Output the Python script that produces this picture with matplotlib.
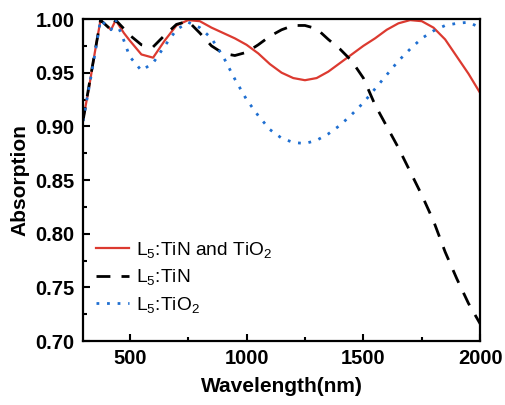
import matplotlib
matplotlib.use('Agg')
import matplotlib.pyplot as plt
from matplotlib.ticker import MultipleLocator

# wavelength grid (nm) shared by the three absorption spectra
wavelength = [300, 325, 350, 375, 400, 420, 440, 475, 500, 550, 600, 650, 700,
              750, 800, 850, 900, 950, 1000, 1050, 1100, 1150, 1200, 1250, 1300,
              1350, 1400, 1450, 1500, 1550, 1600, 1650, 1700, 1750, 1800, 1850,
              1900, 1950, 2000]

tin_tio2 = [0.906, 0.935, 0.968, 0.999, 0.994, 0.990, 0.999, 0.987, 0.980,
            0.967, 0.964, 0.980, 0.994, 0.999, 0.998, 0.992, 0.987, 0.982,
            0.976, 0.968, 0.958, 0.950, 0.945, 0.943, 0.945, 0.951, 0.959,
            0.967, 0.975, 0.982, 0.990, 0.996, 0.999, 0.998, 0.992, 0.981,
            0.965, 0.949, 0.931]

tin = [0.905, 0.937, 0.968, 0.999, 0.994, 0.990, 0.999, 0.991, 0.985,
       0.976, 0.974, 0.985, 0.995, 0.998, 0.987, 0.975, 0.968, 0.966,
       0.969, 0.976, 0.984, 0.990, 0.994, 0.994, 0.991, 0.981, 0.972,
       0.961, 0.945, 0.920, 0.900, 0.880, 0.858, 0.836, 0.812, 0.783,
       0.758, 0.735, 0.716]

tio2 = [0.905, 0.935, 0.966, 0.999, 0.994, 0.990, 0.999, 0.980, 0.965,
        0.952, 0.959, 0.975, 0.990, 0.997, 0.992, 0.982, 0.965, 0.944,
        0.925, 0.910, 0.897, 0.889, 0.885, 0.884, 0.887, 0.893, 0.901,
        0.911, 0.922, 0.935, 0.948, 0.961, 0.972, 0.982, 0.989, 0.994,
        0.996, 0.997, 0.992]

labels = [r'L$_5$:TiN and TiO$_2$', r'L$_5$:TiN', r'L$_5$:TiO$_2$']
yticks = [0.70, 0.75, 0.80, 0.85, 0.90, 0.95, 1.00]

plt.rcParams['font.family'] = ['Liberation Sans', 'DejaVu Sans']
plt.rcParams['mathtext.fontset'] = 'custom'
plt.rcParams['mathtext.rm'] = 'Liberation Sans'
plt.rcParams['mathtext.default'] = 'regular'

fig = plt.figure(figsize=(5.06, 4.05), dpi=100)
ax = fig.add_axes([0.164, 0.158, 0.785, 0.795])

ax.plot(wavelength, tin_tio2, color='#dc3a30', lw=1.6, label=labels[0])
ax.plot(wavelength, tin, color='black', lw=2.0, linestyle=(0, (5, 4)), label=labels[1])
ax.plot(wavelength, tio2, color='#1f6fd1', lw=2.0, linestyle=(0, (1, 2.8)), label=labels[2])

ax.set_xlim(300, 2000)
ax.set_ylim(0.70, 1.00)
ax.xaxis.set_major_locator(MultipleLocator(500))
ax.xaxis.set_minor_locator(MultipleLocator(250))
ax.set_yticks(yticks)
ax.set_yticklabels(['%.2f' % v for v in yticks])
ax.yaxis.set_minor_locator(MultipleLocator(0.025))

ax.tick_params(which='both', direction='in', width=1.5, top=False, right=False,
               labelsize=14.5, pad=6)
ax.tick_params(which='major', length=5)
ax.tick_params(which='minor', length=3)
for lbl in ax.get_xticklabels() + ax.get_yticklabels():
    lbl.set_fontweight('bold')
for sp in ax.spines.values():
    sp.set_linewidth(1.6)

ax.set_xlabel('Wavelength(nm)', fontsize=15, fontweight='bold', labelpad=6)
ax.set_ylabel('Absorption', fontsize=15, fontweight='bold', labelpad=4)

ax.legend(loc='lower left', frameon=False, fontsize=13.8, handlelength=1.7,
          handletextpad=0.35, labelspacing=0.38, borderaxespad=0.3,
          bbox_to_anchor=(0.0, 0.04))

fig.savefig('out.png', dpi=100)
